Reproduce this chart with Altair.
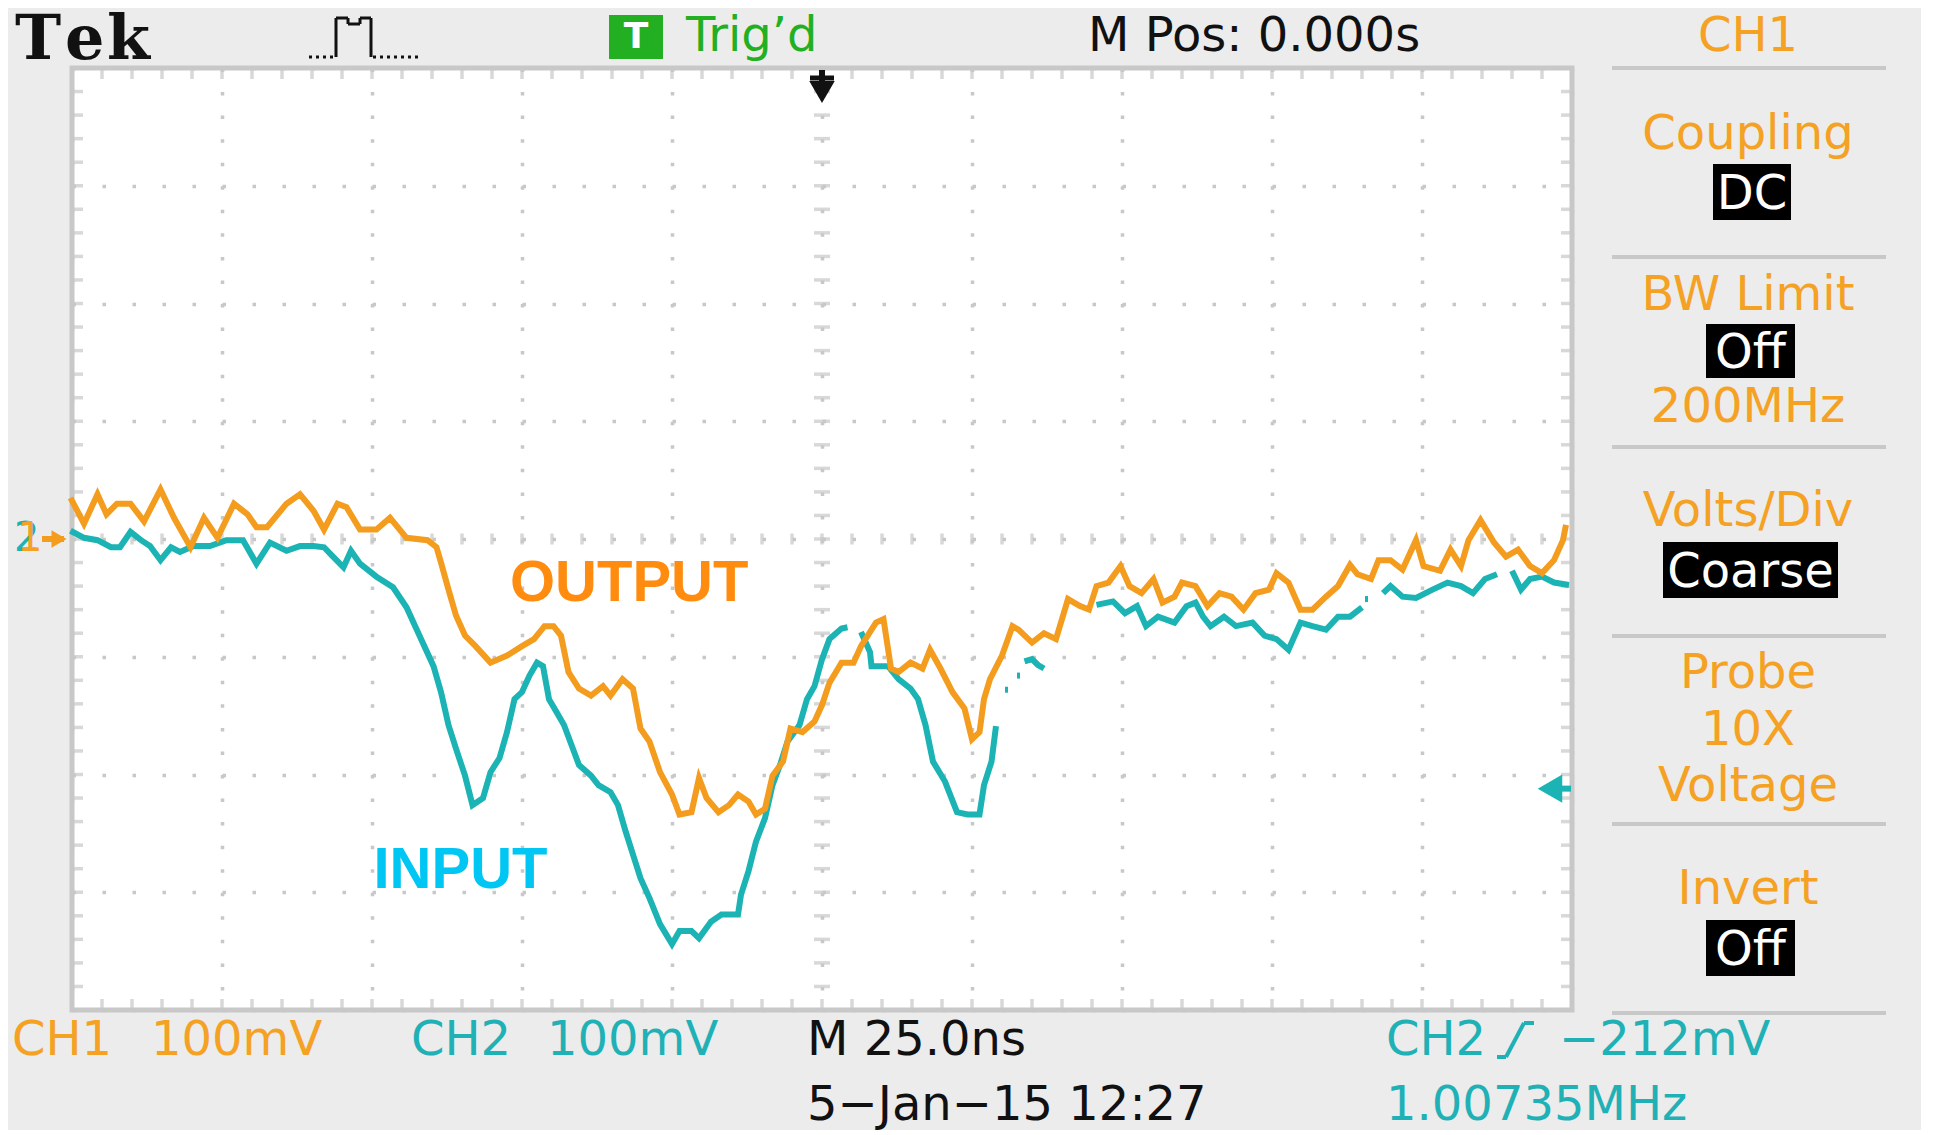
import altair as alt
import pandas as pd

# ---------------- data (screen divisions: x = time div (25 ns/div), y = volt div (100 mV/div)) -------------
OUTPUT_TRACE = [
    (-5.01, 0.35), (-4.92, 0.13), (-4.83, 0.38), (-4.77, 0.21), (-4.70, 0.30), (-4.61, 0.30),
    (-4.52, 0.15), (-4.41, 0.42), (-4.32, 0.18), (-4.21, -0.07), (-4.12, 0.18), (-4.03, 0.01),
    (-3.92, 0.30), (-3.83, 0.21), (-3.77, 0.10), (-3.70, 0.10), (-3.57, 0.30), (-3.48, 0.38),
    (-3.39, 0.24), (-3.32, 0.08), (-3.23, 0.30), (-3.17, 0.27), (-3.08, 0.08), (-2.97, 0.08),
    (-2.88, 0.18), (-2.77, 0.01), (-2.63, -0.01), (-2.57, -0.07), (-2.54, -0.20), (-2.49, -0.43),
    (-2.44, -0.65), (-2.38, -0.82), (-2.31, -0.91), (-2.21, -1.05), (-2.10, -0.99), (-2.00, -0.91),
    (-1.92, -0.85), (-1.85, -0.74), (-1.79, -0.74), (-1.74, -0.82), (-1.69, -1.13), (-1.62, -1.27),
    (-1.54, -1.33), (-1.46, -1.25), (-1.41, -1.33), (-1.33, -1.19), (-1.26, -1.27), (-1.21, -1.61),
    (-1.15, -1.72), (-1.08, -1.98), (-1.00, -2.17), (-0.95, -2.34), (-0.87, -2.32), (-0.82, -2.03),
    (-0.77, -2.20), (-0.69, -2.32), (-0.62, -2.26), (-0.56, -2.17), (-0.49, -2.23), (-0.44, -2.34),
    (-0.38, -2.29), (-0.33, -2.01), (-0.26, -1.89), (-0.21, -1.61), (-0.13, -1.64), (-0.05, -1.55),
    (0.00, -1.41), (0.05, -1.22), (0.13, -1.05), (0.21, -1.05), (0.26, -0.91), (0.36, -0.71),
    (0.41, -0.68), (0.46, -1.10), (0.51, -1.13), (0.59, -1.05), (0.67, -1.10), (0.72, -0.94),
    (0.79, -1.10), (0.87, -1.30), (0.95, -1.44), (1.00, -1.70), (1.05, -1.64), (1.08, -1.36),
    (1.12, -1.19), (1.20, -0.99), (1.27, -0.74), (1.31, -0.77), (1.40, -0.88), (1.48, -0.80),
    (1.56, -0.85), (1.64, -0.51), (1.72, -0.57), (1.78, -0.60), (1.83, -0.40), (1.91, -0.37),
    (1.99, -0.23), (2.05, -0.40), (2.13, -0.46), (2.21, -0.34), (2.27, -0.54), (2.35, -0.49),
    (2.40, -0.37), (2.49, -0.40), (2.57, -0.57), (2.65, -0.46), (2.73, -0.49), (2.81, -0.60),
    (2.89, -0.46), (2.98, -0.43), (3.03, -0.29), (3.11, -0.37), (3.19, -0.60), (3.27, -0.60),
    (3.36, -0.49), (3.44, -0.40), (3.52, -0.22), (3.57, -0.30), (3.66, -0.34), (3.71, -0.18),
    (3.79, -0.18), (3.87, -0.26), (3.96, -0.01), (4.01, -0.23), (4.12, -0.27), (4.19, -0.09),
    (4.26, -0.23), (4.31, -0.01), (4.39, 0.16), (4.48, -0.03), (4.56, -0.15), (4.64, -0.09),
    (4.72, -0.23), (4.80, -0.29), (4.88, -0.18), (4.94, -0.01), (4.96, 0.12),
]

INPUT_SEG_1 = [
    (-5.01, 0.07), (-4.92, 0.01), (-4.83, -0.01), (-4.74, -0.07), (-4.68, -0.07), (-4.61, 0.06),
    (-4.54, -0.01), (-4.48, -0.06), (-4.41, -0.18), (-4.34, -0.07), (-4.28, -0.11), (-4.19, -0.06),
    (-4.08, -0.06), (-3.97, -0.01), (-3.86, -0.01), (-3.77, -0.21), (-3.68, -0.03), (-3.57, -0.10),
    (-3.48, -0.06), (-3.39, -0.06), (-3.32, -0.07), (-3.26, -0.15), (-3.19, -0.24), (-3.14, -0.10),
    (-3.08, -0.21), (-2.97, -0.32), (-2.86, -0.41), (-2.77, -0.58), (-2.68, -0.83), (-2.59, -1.08),
    (-2.54, -1.30), (-2.49, -1.58), (-2.44, -1.78), (-2.38, -2.01), (-2.33, -2.26), (-2.26, -2.20),
    (-2.21, -1.98), (-2.15, -1.86), (-2.10, -1.64), (-2.05, -1.36), (-2.00, -1.30), (-1.95, -1.16),
    (-1.90, -1.05), (-1.86, -1.08), (-1.82, -1.36), (-1.77, -1.47), (-1.72, -1.58), (-1.67, -1.75),
    (-1.62, -1.92), (-1.54, -2.01), (-1.49, -2.09), (-1.41, -2.15), (-1.36, -2.26), (-1.31, -2.48),
    (-1.26, -2.68), (-1.21, -2.88), (-1.15, -3.05), (-1.08, -3.27), (-1.00, -3.44), (-0.95, -3.33),
    (-0.87, -3.33), (-0.82, -3.39), (-0.74, -3.25), (-0.67, -3.19), (-0.56, -3.19), (-0.54, -3.02),
    (-0.49, -2.82), (-0.44, -2.57), (-0.38, -2.37), (-0.33, -2.09), (-0.28, -1.92), (-0.23, -1.72),
    (-0.15, -1.58), (-0.10, -1.36), (-0.05, -1.25), (0.00, -1.02), (0.05, -0.85), (0.13, -0.76),
    (0.17, -0.75),
]
INPUT_SEG_2 = [
    (0.26, -0.79), (0.32, -0.96), (0.33, -1.08), (0.44, -1.08), (0.51, -1.19), (0.59, -1.27),
    (0.64, -1.36), (0.69, -1.58), (0.74, -1.89), (0.82, -2.06), (0.90, -2.32), (0.97, -2.34),
    (1.05, -2.34), (1.08, -2.09), (1.13, -1.89), (1.16, -1.59),
]
INPUT_SEG_3 = [(1.22, -1.28), (1.24, -1.28)]
INPUT_SEG_4 = [(1.30, -1.16), (1.32, -1.16)]
INPUT_SEG_5 = [(1.35, -1.04), (1.40, -1.02), (1.44, -1.07), (1.48, -1.10)]
INPUT_SEG_6 = [
    (1.83, -0.56), (1.94, -0.53), (2.02, -0.63), (2.10, -0.57), (2.16, -0.74), (2.24, -0.66),
    (2.35, -0.71), (2.43, -0.57), (2.49, -0.54), (2.54, -0.66), (2.59, -0.74), (2.68, -0.66),
    (2.76, -0.74), (2.87, -0.71), (2.95, -0.82), (3.03, -0.85), (3.11, -0.94), (3.19, -0.71),
    (3.27, -0.74), (3.36, -0.77), (3.44, -0.66), (3.52, -0.66), (3.60, -0.58),
]
INPUT_SEG_7 = [(3.62, -0.51), (3.64, -0.51)]
INPUT_SEG_8 = [
    (3.74, -0.46), (3.79, -0.40), (3.87, -0.49), (3.96, -0.50), (4.07, -0.43), (4.17, -0.37),
    (4.26, -0.40), (4.34, -0.46), (4.42, -0.34), (4.50, -0.30),
]
INPUT_SEG_9 = [(4.60, -0.27), (4.66, -0.43), (4.72, -0.34), (4.80, -0.32), (4.88, -0.37), (4.98, -0.39)]
INPUT_SEGMENTS = [INPUT_SEG_1, INPUT_SEG_2, INPUT_SEG_3, INPUT_SEG_4, INPUT_SEG_5,
                  INPUT_SEG_6, INPUT_SEG_7, INPUT_SEG_8, INPUT_SEG_9]

TRACE_LABELS = [("OUTPUT", -2.08, -0.38), ("INPUT", -2.99, -2.82)]
TRIGGER_LEVEL_DIV = -2.12  # -212 mV at 100 mV/div

X_MAJOR = list(range(-5, 6))
Y_MAJOR = list(range(-4, 5))
X_MINOR = [round(-5 + 0.2 * i, 2) for i in range(51)]
Y_MINOR = [round(-4 + 0.2 * i, 2) for i in range(41)]

# ---------------- style ----------------
BG = "#ECECEC"
GRID = "#C8C8C8"
ORANGE = "#F39C1D"
TEAL = "#1BB3B3"
ORANGE_TXT = "#F4A124"
TEAL_TXT = "#1FB1B6"
GREEN = "#22B022"
FONT = "DejaVu Sans"
W, H = 1500, 942
DY = 3  # visual centring offset for middle-baseline text

one = pd.DataFrame({"k": [0]})

X = alt.X("t:Q", scale=alt.Scale(domain=[-5, 5], nice=False, zero=False),
          axis=alt.Axis(values=X_MAJOR, grid=True, labels=False, ticks=False, domain=False, title=None,
                        gridColor=GRID, gridWidth=3.5, gridDash=[3.5, 20.05], gridOpacity=1))
Y = alt.Y("v:Q", scale=alt.Scale(domain=[-4, 4], nice=False, zero=False),
          axis=alt.Axis(values=Y_MAJOR, grid=True, labels=False, ticks=False, domain=False, title=None,
                        gridColor=GRID, gridWidth=3.5, gridDash=[3.5, 26.5], gridOpacity=1))

df_out = pd.DataFrame(OUTPUT_TRACE, columns=["t", "v"])
rows = []
for i, seg in enumerate(INPUT_SEGMENTS):
    for t, v in seg:
        rows.append({"t": t, "v": v, "seg": i})
df_in = pd.DataFrame(rows)
df_xminor = pd.DataFrame({"t": X_MINOR})
df_yminor = pd.DataFrame({"v": Y_MINOR})


def txt(s, px, py, color, size=48, font=FONT, align="left", weight="normal"):
    return alt.Chart(one).mark_text(text=s, align=align, baseline="middle", color=color,
                                    fontSize=size, font=font, fontWeight=weight).encode(
        x=alt.value(px), y=alt.value(py + DY))


def rule(x1, x2, y1, y2, color, width=4, dash=None):
    kw = dict(color=color, strokeWidth=width)
    if dash:
        kw["strokeDash"] = dash
    return alt.Chart(one).mark_rule(**kw).encode(
        x=alt.value(x1), x2=alt.value(x2), y=alt.value(y1), y2=alt.value(y2))


def box(x1, x2, y1, y2, color):
    return alt.Chart(one).mark_rect(color=color).encode(
        x=alt.value(x1), x2=alt.value(x2), y=alt.value(y1), y2=alt.value(y2))


def tri(shape, px, py, color, size):
    return alt.Chart(one).mark_point(shape=shape, filled=True, color=color, size=size, opacity=1).encode(
        x=alt.value(px), y=alt.value(py))


layers = []

# minor graticule ticks on frame edges and centre lines
for py, size in [(5.5, 11), (H - 5.5, 11), (H / 2, 11)]:
    layers.append(alt.Chart(df_xminor).mark_tick(orient="vertical", color=GRID, thickness=3.5, size=size)
                  .encode(x=X, y=alt.value(py)))
for px, size in [(5.5, 11), (W - 5.5, 11), (W / 2, 16)]:
    layers.append(alt.Chart(df_yminor).mark_tick(orient="horizontal", color=GRID, thickness=3.5, size=size)
                  .encode(y=Y, x=alt.value(px)))

# traces
layers.append(alt.Chart(df_in).mark_line(color=TEAL, strokeWidth=6, strokeJoin="miter")
              .encode(x=X, y=Y, detail="seg:N", order="t:Q"))
layers.append(alt.Chart(df_out).mark_line(color=ORANGE, strokeWidth=6, strokeJoin="miter")
              .encode(x=X, y=Y, order="t:Q"))

# trace annotations
df_lab = pd.DataFrame(TRACE_LABELS, columns=["label", "t", "v"])
for name, col in [("OUTPUT", "#FF8C0F"), ("INPUT", "#00C6F4")]:
    layers.append(alt.Chart(df_lab[df_lab.label == name]).mark_text(
        align="left", baseline="middle", color=col, fontSize=58, font="Liberation Sans", fontWeight="bold")
        .encode(x=X, y=Y, text="label:N"))

# trigger level marker (right)
df_trig = pd.DataFrame({"v": [TRIGGER_LEVEL_DIV]})
layers.append(alt.Chart(df_trig).mark_rule(color=TEAL, strokeWidth=6)
              .encode(y=Y, x=alt.value(1472), x2=alt.value(1499)))
layers.append(alt.Chart(df_trig).mark_point(shape="triangle-left", filled=True, color=TEAL, size=800, opacity=1)
              .encode(y=Y, x=alt.value(1478)))

# channel ground marker (left)
layers.append(txt("2", -58, 468, TEAL_TXT, size=40))
layers.append(txt("1", -55, 468, ORANGE_TXT, size=40))
layers.append(rule(-30, -8, 471, 471, ORANGE, width=6))
layers.append(tri("triangle-right", -13, 471, ORANGE, 300))

# trigger position marker (top)
layers.append(rule(750, 750, 2, 20, "#111111", width=6))
layers.append(rule(738, 762, 10, 10, "#111111", width=5))
layers.append(tri("triangle-down", 750, 24, "#111111", 650))

# top bar
layers.append(txt("T", -57, -31, "#111111", size=62, font="DejaVu Serif", weight="bold"))
layers.append(txt("e", -7, -31, "#111111", size=62, font="DejaVu Serif", weight="bold"))
layers.append(txt("k", 35, -31, "#111111", size=62, font="DejaVu Serif", weight="bold"))
layers.append(rule(237, 262, -11, -11, "#111111", width=3, dash=[3, 4]))
layers.append(rule(264, 264, -11, -50, "#111111", width=3))
layers.append(rule(264, 276, -50, -50, "#111111", width=3))
layers.append(rule(276, 276, -50, -44, "#111111", width=3))
layers.append(rule(276, 288, -44, -44, "#111111", width=3))
layers.append(rule(288, 288, -44, -50, "#111111", width=3))
layers.append(rule(288, 299, -50, -50, "#111111", width=3))
layers.append(rule(299, 299, -50, -11, "#111111", width=3))
layers.append(rule(301, 346, -11, -11, "#111111", width=3, dash=[3, 4]))
layers.append(box(537, 591, -53, -9, GREEN))
layers.append(txt("T", 564, -34, "white", size=36, align="center", weight="bold"))
layers.append(txt("Trig\u2019d", 614, -34, GREEN))
layers.append(txt("M Pos: 0.000s", 1016, -34, "#111111"))
layers.append(txt("CH1", 1676, -34, ORANGE_TXT, align="center"))

# side menu
for py in [0, 189, 379, 568, 756, 945]:
    layers.append(rule(1540, 1814, py, py, GRID, width=4))
PANEL_TEXT = [("Coupling", 64), ("BW Limit", 225), ("200MHz", 337), ("Volts/Div", 441),
              ("Probe", 603), ("10X", 660), ("Voltage", 716), ("Invert", 819)]
for s, py in PANEL_TEXT:
    layers.append(txt(s, 1676, py, ORANGE_TXT, align="center"))
PANEL_BOXES = [("DC", 1641, 1719, 96, 152), ("Off", 1634, 1723, 256, 310),
               ("Coarse", 1591, 1766, 474, 530), ("Off", 1634, 1723, 852, 908)]
for s, x1, x2, y1, y2 in PANEL_BOXES:
    layers.append(box(x1, x2, y1, y2, "#000000"))
    layers.append(txt(s, (x1 + x2) / 2, (y1 + y2) / 2, "white", align="center"))

# bottom status line
layers.append(txt("CH1", -60, 970, ORANGE_TXT))
layers.append(txt("100mV", 79, 970, ORANGE_TXT))
layers.append(txt("CH2", 339, 970, TEAL_TXT))
layers.append(txt("100mV", 475, 970, TEAL_TXT))
layers.append(txt("M 25.0ns", 735, 970, "#111111"))
layers.append(txt("5\u2212Jan\u221215 12:27", 735, 1035, "#111111"))
layers.append(txt("CH2", 1314, 970, TEAL_TXT))
layers.append(rule(1425, 1434, 989, 989, TEAL_TXT, width=4))
layers.append(rule(1434, 1452, 989, 955, TEAL_TXT, width=4))
layers.append(rule(1452, 1462, 955, 955, TEAL_TXT, width=4))
layers.append(txt("\u2212212mV", 1487, 970, TEAL_TXT))
layers.append(txt("1.00735MHz", 1314, 1035, TEAL_TXT))

chart = alt.layer(*layers).properties(
    width=W, height=H,
    autosize=alt.AutoSizeParams(type="none"),
    padding={"left": 64, "top": 60, "right": 349, "bottom": 120},
).configure(background=BG).configure_view(stroke=GRID, strokeWidth=5, fill="white")

chart.save("out.html", embed_options={"renderer": "svg", "actions": False})
